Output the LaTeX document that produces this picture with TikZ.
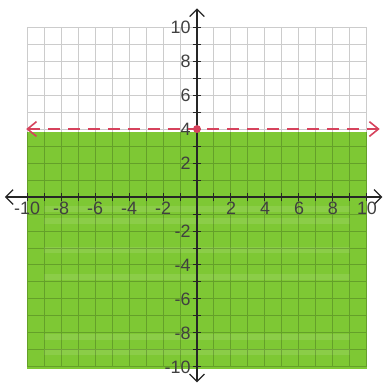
\documentclass[tikz,border=0pt]{standalone}
\usepackage{fontspec}
\setsansfont{Liberation Sans}
\usetikzlibrary{arrows.meta}
\definecolor{ShadeGreen}{RGB}{126,200,52}
\definecolor{LineRed}{RGB}{214,66,92}
\begin{document}
\begin{tikzpicture}[
    x=0.3cm, y=0.3cm,
    font=\sffamily\small,
    region/.style={fill=ShadeGreen},
    streak/.style={fill=white, opacity=0.1},
    gridline/.style={black, opacity=0.2, line width=0.5pt},
    axis/.style={{Straight Barb[length=1.3mm]}-{Straight Barb[length=1.3mm]}, line width=0.6pt, black!85},
    tickmark/.style={line width=0.5pt, black!85},
    boundary/.style={{Straight Barb[length=1.6mm, width=2.6mm]}-{Straight Barb[length=1.6mm, width=2.6mm]},
        dash pattern=on 6pt off 4pt, line width=0.8pt, LineRed},
    xlab/.style={below=1.5pt, inner sep=1pt, text=black!75},
    ylab/.style={left=2pt, inner sep=1pt, text=black!75},
]
\useasboundingbox (-11.59,-11.06) rectangle (11.06,11.59);

% --- shaded region y < 4 ---
\fill[region] (-10,3.85) rectangle (10,-10.1);
\foreach \yy in {-0.9,-1.6,-3.3,-4.9,-8.4,-9.3}
    \fill[streak] (-9,\yy) rectangle (9,\yy+0.35);

% --- grid ---
\draw[gridline, step=1] (-10,-10) grid (10,10);

% --- axes ---
\coordinate (xl) at (-11.3,0);
\coordinate (xr) at (10.9,0);
\coordinate (yb) at (0,-10.9);
\coordinate (yt) at (0,11.1);
\draw[axis] (xl) -- (xr);
\draw[axis] (yb) -- (yt);
\foreach \i in {-10,...,10} {
    \draw[tickmark] (\i,-0.25) -- (\i,0.25);
    \draw[tickmark] (-0.25,\i) -- (0.25,\i);
}

% --- labels ---
\foreach \v in {-10,-8,-6,-4,-2,2,4,6,8,10} {
    \node[xlab] (x\v) at (\v,0) {\v};
    \node[ylab] (y\v) at (0,\v) {\v};
}

% --- boundary line y = 4 ---
\coordinate (bl) at (-10.05,4);
\coordinate (br) at (10.75,4);
\draw[boundary] (bl) -- (br);
\node[circle, fill=LineRed, inner sep=0pt, minimum size=1.4mm] (pt) at (0,4) {};

\end{tikzpicture}
\end{document}
